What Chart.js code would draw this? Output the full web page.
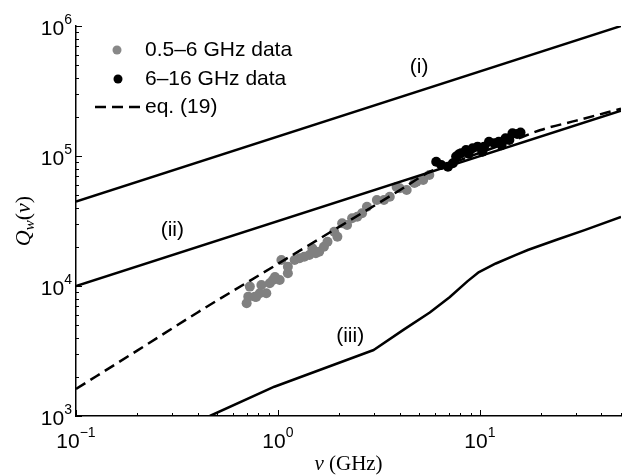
<!DOCTYPE html>
<html>
<head>
<meta charset="utf-8">
<script src="https://cdn.jsdelivr.net/npm/chart.js@4.4.1/dist/chart.umd.min.js"></script>
<style>
  body { margin: 0; background: #fff; }
  #wrap { width: 626px; height: 476px; }
</style>
</head>
<body>
<div id="wrap"><canvas id="qChart" width="626" height="476"></canvas></div>
<script>
// measured data, 0.5-6 GHz (grey) and 6-16 GHz (black)
const grayNu = [0.70, 0.713, 0.726, 0.769, 0.78, 0.813, 0.828, 0.876, 0.911, 0.945, 0.967, 1.02, 1.04, 1.12, 1.12,
  1.21, 1.28, 1.35, 1.43, 1.48, 1.54, 1.60, 1.69, 1.76, 1.90, 1.97, 2.08, 2.20, 2.33, 2.47, 2.61, 2.76,
  3.09, 3.35, 3.58, 3.87, 4.01, 4.34, 4.74, 4.86, 5.24, 5.62];
const grayQ = [7360, 8280, 9890, 8280, 8230, 8790, 10180, 8790, 10500, 11120, 11720, 11120, 15850, 12530, 14060,
  15850, 16330, 16790, 17300, 19500, 17860, 18370, 20050, 21930, 26180, 23930, 30340, 29430, 33200, 34140, 36230, 40740,
  45920, 45900, 48660, 57800, 56490, 54700, 61950, 63370, 65340, 71450];

const blackNu = [6.08, 6.44, 6.95, 7.35, 7.63, 7.88, 8.07, 8.54, 8.8, 9.21, 9.75, 10.3, 10.5, 11.1, 11.8, 12.4, 12.8,
  13.4, 14.0, 14.5, 15.3, 15.9];
const blackQ = [90340, 85300, 82800, 87900, 98900, 103000, 105000, 111200, 104000, 114600, 118000, 108000, 118000,
  128900, 125400, 128900, 121000, 136800, 133000, 149500, 147600, 151300];

// eq. (19)
const eqNu = [0.1, 0.2, 0.4, 1, 2, 4, 5.65, 8, 10, 14, 20, 30, 50];
const eqQ = [1615, 3170, 6260, 14800, 28400, 54400, 75700, 93000, 106000, 128000, 158500, 187000, 231000];

// limits (i), (ii), (iii)
const limI_Nu = [0.1, 50];
const limI_Q = [44700, 1000000];
const limII_Nu = [0.1, 50];
const limII_Q = [10000, 223600];
const limIII_Nu = [0.46, 0.96, 2.98, 4.18, 5.65, 7.08, 8.7, 9.9, 12.0, 15.0, 17.4, 24, 33, 50];
const limIII_Q = [1000, 1680, 3220, 4600, 6250, 8200, 10900, 12800, 14900, 17300, 19000, 22700, 26900, 34000];

const curveLabels = ['(i)', '(ii)', '(iii)'];
const curveLabelNu = [5.0, 0.30, 2.28];
const curveLabelQ = [484000, 27000, 4130];

const legendLabels = ['0.5\u20136 GHz data', '6\u201316 GHz data', 'eq. (19)'];
const xDecades = [-1, 0, 1];
const yDecades = [3, 4, 5, 6];

const pts = (xs, ys) => xs.map((v, i) => ({ x: v, y: ys[i] }));

const SANS = '"Liberation Sans", Arial, sans-serif';
const SERIF = '"Liberation Serif", "Times New Roman", serif';

function powLabel(ctx, exp, x, base, align) {
  const e = exp < 0 ? '\u2212' + (-exp) : String(exp);
  ctx.font = '21px ' + SANS;
  const w1 = ctx.measureText('10').width;
  ctx.font = '14px ' + SANS;
  const w2 = ctx.measureText(e).width;
  let left = align === 'center' ? x - (w1 + w2) / 2 : x - w1 - w2;
  ctx.textAlign = 'left';
  ctx.textBaseline = 'alphabetic';
  ctx.font = '21px ' + SANS;
  ctx.fillText('10', left, base);
  ctx.font = '14px ' + SANS;
  ctx.fillText(e, left + w1, base - 11);
}

const decor = {
  id: 'decor',
  afterDraw(chart) {
    const { ctx, scales: { x, y }, chartArea: a } = chart;
    ctx.save();
    ctx.strokeStyle = '#000';
    ctx.fillStyle = '#000';
    ctx.lineWidth = 1;

    // inward ticks
    ctx.beginPath();
    for (let d = -1; d <= 1; d++) {
      for (let k = 1; k <= 9; k++) {
        const v = k * Math.pow(10, d);
        if (v > 50) break;
        const px = Math.round(x.getPixelForValue(v)) + 0.5;
        const len = k === 1 ? 6 : 3;
        ctx.moveTo(px, a.bottom);
        ctx.lineTo(px, a.bottom - len);
      }
    }
    for (let d = 3; d <= 6; d++) {
      for (let k = 1; k <= 9; k++) {
        const v = k * Math.pow(10, d);
        if (v > 1e6) break;
        const py = Math.round(y.getPixelForValue(v)) + 0.5;
        const len = k === 1 ? 6 : 3;
        ctx.moveTo(a.left, py);
        ctx.lineTo(a.left + len, py);
      }
    }
    ctx.stroke();

    // tick labels
    xDecades.forEach(d => powLabel(ctx, d, x.getPixelForValue(Math.pow(10, d)), 448, 'center'));
    yDecades.forEach(d => powLabel(ctx, d, 72, y.getPixelForValue(Math.pow(10, d)) + 9, 'right'));

    // x title
    ctx.textBaseline = 'alphabetic';
    ctx.textAlign = 'left';
    ctx.font = 'italic 21px ' + SERIF;
    const wNu = ctx.measureText('\u03bd').width;
    ctx.font = '21px ' + SERIF;
    const wG = ctx.measureText(' (GHz)').width;
    let sx = (a.left + a.right) / 2 - (wNu + wG) / 2;
    ctx.font = 'italic 21px ' + SERIF;
    ctx.fillText('\u03bd', sx, 470);
    ctx.font = '21px ' + SERIF;
    ctx.fillText(' (GHz)', sx + wNu, 470);

    // y title
    ctx.save();
    ctx.translate(30, (a.top + a.bottom) / 2);
    ctx.rotate(-Math.PI / 2);
    const parts = [
      ['italic 22px ' + SERIF, 'Q', 0],
      ['italic 15px ' + SERIF, 'w', 4],
      ['22px ' + SERIF, '(', 0],
      ['italic 22px ' + SERIF, '\u03bd', 0],
      ['22px ' + SERIF, ')', 0]
    ];
    let tw = 0;
    parts.forEach(p => { ctx.font = p[0]; tw += ctx.measureText(p[1]).width; });
    let cx = -tw / 2;
    parts.forEach(p => {
      ctx.font = p[0];
      ctx.fillText(p[1], cx, p[2]);
      cx += ctx.measureText(p[1]).width;
    });
    ctx.restore();

    // curve labels
    ctx.font = '21px ' + SANS;
    ctx.textAlign = 'center';
    ctx.textBaseline = 'middle';
    curveLabels.forEach((t, i) => {
      ctx.fillText(t, x.getPixelForValue(curveLabelNu[i]), y.getPixelForValue(curveLabelQ[i]));
    });

    // legend
    const rows = [50, 79, 107];
    ctx.textAlign = 'left';
    ctx.fillStyle = '#888';
    ctx.beginPath(); ctx.arc(117, rows[0], 4.5, 0, Math.PI * 2); ctx.fill();
    ctx.fillStyle = '#000';
    ctx.beginPath(); ctx.arc(118, rows[1], 4.5, 0, Math.PI * 2); ctx.fill();
    ctx.lineWidth = 2.5;
    ctx.setLineDash([11, 6]);
    ctx.beginPath(); ctx.moveTo(95, rows[2]); ctx.lineTo(140, rows[2]); ctx.stroke();
    ctx.setLineDash([]);
    legendLabels.forEach((t, i) => ctx.fillText(t, 145, rows[i]));

    ctx.restore();
  }
};

const solid = { showLine: true, pointRadius: 0, borderColor: '#000', borderWidth: 2.5, fill: false };

new Chart(document.getElementById('qChart'), {
  type: 'scatter',
  data: {
    datasets: [
      Object.assign({ data: pts(limI_Nu, limI_Q) }, solid),
      Object.assign({ data: pts(limII_Nu, limII_Q) }, solid),
      Object.assign({ data: pts(limIII_Nu, limIII_Q), borderJoinStyle: 'round' }, solid),
      { data: pts(blackNu, blackQ), pointRadius: 5, pointBorderWidth: 0,
        pointBackgroundColor: '#000', backgroundColor: '#000' },
      Object.assign({ data: pts(eqNu, eqQ), borderDash: [11, 6], cubicInterpolationMode: 'monotone' }, solid),
      { data: pts(grayNu, grayQ), pointRadius: 5, pointBorderWidth: 0,
        pointBackgroundColor: '#808080', backgroundColor: '#808080' }
    ]
  },
  options: {
    responsive: false,
    animation: false,
    devicePixelRatio: 1,
    layout: { padding: { left: 76, top: 26, right: 0, bottom: 60 } },
    plugins: { legend: { display: false }, tooltip: { enabled: false } },
    scales: {
      x: {
        type: 'logarithmic', min: 0.1, max: 50,
        ticks: { display: false },
        grid: { display: false, drawTicks: false },
        border: { display: true, color: '#000', width: 1.5 }
      },
      y: {
        type: 'logarithmic', min: 1000, max: 1000000,
        ticks: { display: false },
        grid: { display: false, drawTicks: false },
        border: { display: true, color: '#000', width: 1.5 }
      }
    }
  },
  plugins: [decor]
});
</script>
</body>
</html>
